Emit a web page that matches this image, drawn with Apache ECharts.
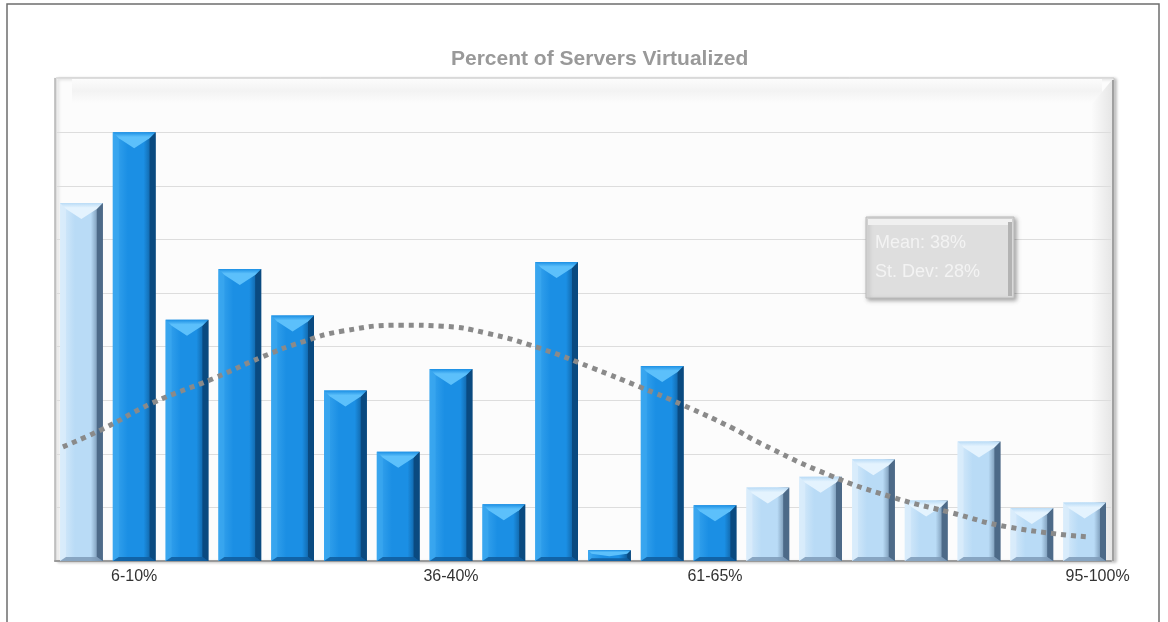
<!DOCTYPE html>
<html>
<head>
<meta charset="utf-8">
<title>Percent of Servers Virtualized</title>
<script src="https://cdn.jsdelivr.net/npm/echarts@6/dist/echarts.min.js"></script>
<style>
  html, body { margin: 0; padding: 0; background: #ffffff; }
  #chart { width: 1168px; height: 622px; }
</style>
</head>
<body>
<div id="chart"></div>
<script>
// Histogram bins (percent of servers virtualized)
const bins = ['0-5%', '6-10%', '11-15%', '16-20%', '21-25%', '26-30%', '31-35%', '36-40%',
  '41-45%', '46-50%', '51-55%', '56-60%', '61-65%', '66-70%', '71-75%', '76-80%',
  '81-85%', '86-90%', '91-94%', '95-100%'];
// Bins whose label is printed under the axis
const shownLabels = ['6-10%', '36-40%', '61-65%', '95-100%'];
// Share of respondents in each bin (one gridline step = 1)
const share = [6.68, 8.0, 4.50, 5.45, 4.58, 3.18, 2.04, 3.58, 1.06, 5.58,
  0.20, 3.64, 1.04, 1.37, 1.57, 1.90, 1.13, 2.23, 0.99, 1.09];
// Bins drawn in the pale tone
const paleBins = [0, 13, 14, 15, 16, 17, 18, 19];
// Fitted normal curve: x in bin units, y in gridline units
const curveX = [0.15, 0.90, 1.85, 2.99, 3.93, 4.69, 5.45, 6.58, 7.34, 8.18, 9.18,
  10.18, 11.07, 11.89, 12.83, 13.35, 14.67, 15.86, 16.94, 18.08, 19.56];
const curveY = [2.13, 2.46, 2.95, 3.40, 3.81, 4.09, 4.29, 4.40, 4.38, 4.25, 3.97,
  3.60, 3.25, 2.91, 2.48, 2.20, 1.60, 1.19, 0.91, 0.63, 0.45];
// Summary statistics
const statLines = ['Mean: 38%', 'St. Dev: 28%'];

const FONT = 'Liberation Sans, Arial, sans-serif';
const palette = {
  bright: { face: '#1b8fe4', left: '#3aa6ef', right: '#0a4a80', top: '#5cc0fb', bottom: '#0f5c9c' },
  pale:   { face: '#b9dbf6', left: '#d9ecfb', right: '#4d6a88', top: '#e4f3fe', bottom: '#7e9bb8' }
};

const chart = echarts.init(document.getElementById('chart'));

// Bevelled bar: face, dark right edge, light left edge, bottom lip and a V-shaped top facet
function bevelBar(params, api) {
  const idx = api.value(0);
  const top = api.coord([idx, api.value(1)]);
  const base = api.coord([idx, 0]);
  const band = api.size([1, 0])[0];
  const w = band * 0.81;
  const L = top[0] - w / 2, R = top[0] + w / 2, C = top[0];
  const T = top[1], B = base[1];
  const h = B - T;
  const c = paleBins.includes(idx) ? palette.pale : palette.bright;
  const e = Math.min(6, h / 3);
  const d = Math.min(16, h * 0.55);
  const eb = Math.min(4, h / 4);
  return {
    type: 'group',
    children: [
      { type: 'rect', shape: { x: L, y: T, width: w, height: h },
        style: { fill: new echarts.graphic.LinearGradient(0, 0, 1, 0, [
          { offset: 0, color: c.left }, { offset: 0.35, color: c.face },
          { offset: 0.72, color: c.face }, { offset: 1, color: c.right }]) } },
      { type: 'polygon', shape: { points: [[R, T], [R, B], [R - e, B - eb], [R - e, T + e]] },
        style: { fill: c.right } },
      { type: 'polygon', shape: { points: [[L, T], [L + e, T + e], [L + e, B - eb], [L, B]] },
        style: { fill: c.left, opacity: 0.8 } },
      { type: 'polygon', shape: { points: [[L, B], [L + e, B - eb], [R - e, B - eb], [R, B]] },
        style: { fill: c.bottom, opacity: 0.85 } },
      { type: 'polygon', shape: { points: [[L, T], [R, T], [R - e, T + e], [C, T + d], [L + e, T + e]] },
        style: { fill: new echarts.graphic.LinearGradient(0, 0, 0, 1, [
          { offset: 0, color: c.face }, { offset: 0.3, color: c.top }, { offset: 1, color: c.top }]) } }
    ]
  };
}

const option = {
  backgroundColor: '#ffffff',
  animation: false,
  title: {
    text: 'Percent of Servers Virtualized',
    left: 446,
    top: 44,
    textStyle: { fontFamily: FONT, fontSize: 21, fontWeight: 'bold', color: '#999999' }
  },
  grid: { left: 55, right: 57, top: 78.6, bottom: 61, containLabel: false },
  xAxis: [
    {
      type: 'category',
      data: bins,
      axisTick: { show: false },
      axisLine: { lineStyle: { color: '#9a9a9a', width: 2 } },
      axisLabel: {
        interval: 0,
        margin: 8,
        fontFamily: FONT,
        fontSize: 16,
        color: '#333333',
        formatter: v => shownLabels.includes(v) ? (v === bins[bins.length - 1] ? '{last|' + v + '}' : v) : '',
        rich: { last: { padding: [0, 0, 0, 26], fontSize: 16, color: '#333333', fontFamily: FONT } }
      }
    },
    { type: 'value', min: 0, max: bins.length, show: false }
  ],
  yAxis: {
    type: 'value',
    min: 0,
    max: 9,
    interval: 1,
    axisLabel: { show: false },
    axisTick: { show: false },
    axisLine: { show: true, lineStyle: { color: '#b5b5b5', width: 1.5 } },
    splitLine: { lineStyle: { color: '#dddddd', width: 1.2 } }
  },
  graphic: [
    // outer frame
    { type: 'rect', z: -5, shape: { x: 7, y: 4, width: 1152, height: 640 },
      style: { fill: '#ffffff', stroke: '#6e6e6e', lineWidth: 1.5 } },
    // plot box back wall
    { type: 'rect', z: -4, shape: { x: 56, y: 78, width: 1058, height: 483 },
      style: { fill: '#fcfcfc', stroke: '#c9c9c9', lineWidth: 1, shadowColor: 'rgba(0,0,0,0.25)', shadowBlur: 3, shadowOffsetX: 2, shadowOffsetY: 1 } },
    { type: 'rect', z: -3, shape: { x: 72, y: 79, width: 1030, height: 24 },
      style: { fill: new echarts.graphic.LinearGradient(0, 0, 0, 1, [
        { offset: 0, color: '#fcfcfc' }, { offset: 0.5, color: '#f3f3f3' }, { offset: 1, color: '#fcfcfc' }]) } },
    { type: 'polygon', z: -3, shape: { points: [[1092, 104], [1112, 80], [1112, 560], [1092, 560]] },
      style: { fill: new echarts.graphic.LinearGradient(0, 0, 1, 0, [
        { offset: 0, color: '#fbfbfb' }, { offset: 1, color: '#e6e6e6' }]) } },
    { type: 'line', z: -2, shape: { x1: 1113, y1: 80, x2: 1113, y2: 561 },
      style: { stroke: '#a0a0a0', lineWidth: 2 } },
    // statistics box
    { type: 'rect', z: 10, shape: { x: 866, y: 217, width: 148, height: 81 },
      style: { fill: '#dedede', stroke: '#bdbdbd', lineWidth: 1, shadowColor: 'rgba(0,0,0,0.35)', shadowBlur: 4, shadowOffsetX: 2, shadowOffsetY: 2 } },
    { type: 'rect', z: 11, shape: { x: 868, y: 219, width: 144, height: 6 },
      style: { fill: '#f0f0f0' } },
    { type: 'rect', z: 11, shape: { x: 1008, y: 222, width: 4, height: 74 },
      style: { fill: '#b3b3b3' } },
    { type: 'text', z: 12, x: 875, y: 243, style: { text: statLines[0], fill: '#f3f3f3', fontSize: 18, fontFamily: FONT, textVerticalAlign: 'middle' } },
    { type: 'text', z: 12, x: 875, y: 272, style: { text: statLines[1], fill: '#f3f3f3', fontSize: 18, fontFamily: FONT, textVerticalAlign: 'middle' } }
  ],
  series: [
    {
      type: 'custom',
      xAxisIndex: 0,
      renderItem: bevelBar,
      encode: { x: 0, y: 1 },
      data: share.map((v, i) => [i, v]),
      z: 3
    },
    {
      type: 'line',
      xAxisIndex: 1,
      smooth: true,
      symbol: 'none',
      data: curveX.map((x, i) => [x, curveY[i]]),
      lineStyle: { color: '#8a8a8a', width: 5, type: [5, 5], cap: 'butt' },
      z: 5
    }
  ]
};

chart.setOption(option);
</script>
</body>
</html>
